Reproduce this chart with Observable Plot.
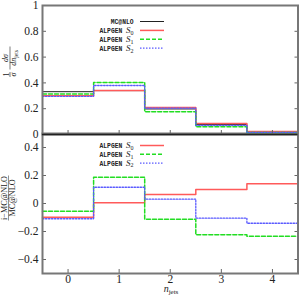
<!DOCTYPE html>
<html><head><meta charset="utf-8">
<script src="https://cdn.jsdelivr.net/npm/d3@7"></script>
<script src="https://cdn.jsdelivr.net/npm/@observablehq/plot@0.6"></script>
<style>
body{margin:0;background:#fff;}
#wrap{position:relative;width:299px;height:300px;overflow:hidden;background:#fff;}
#wrap svg{position:absolute;left:0;}
#wrap svg.pl text{font-family:'Liberation Serif','DejaVu Serif',serif;font-size:11.5px;fill:#222;}
</style></head>
<body><div id="wrap"></div>
<script>
// ---- data ----
const bins = [0, 1, 2, 3, 4];
const mcnlo = [0.332, 0.340, 0.198, 0.078, 0.020];
const alpS0 = [0.300, 0.342, 0.210, 0.086, 0.023];
const alpS1 = [0.314, 0.403, 0.176, 0.061, 0.015];
const alpS2 = [0.296, 0.380, 0.204, 0.070, 0.017];
const ratioS0 = [-0.098, 0.005, 0.064, 0.100, 0.141];
const ratioS1 = [-0.055, 0.188, -0.112, -0.224, -0.234];
const ratioS2 = [-0.109, 0.116, 0.031, -0.105, -0.141];
const xTicks = [0, 1, 2, 3, 4];
const yTicksTop = [0, 0.2, 0.4, 0.6, 0.8, 1];
const yTicksBot = [-0.4, -0.2, 0, 0.2, 0.4];
const topLegend = [["MC@NLO", null], ["ALPGEN ", "0"], ["ALPGEN ", "1"], ["ALPGEN ", "2"]];
const botLegend = [["ALPGEN ", "0"], ["ALPGEN ", "1"], ["ALPGEN ", "2"]];

const styles = {
  mc: {stroke: "#222", strokeWidth: 1},
  s0: {stroke: "#ff5a5a", strokeWidth: 1.5},
  s1: {stroke: "#22dd22", strokeWidth: 1.5, strokeDasharray: "4,2"},
  s2: {stroke: "#5a5aff", strokeWidth: 1.3, strokeDasharray: "1.5,1.5"}
};

function steps(vals) {
  const pts = bins.map((b, i) => ({x: b - 0.5, y: vals[i]}));
  pts.push({x: bins[bins.length - 1] + 0.5, y: vals[vals.length - 1]});
  return pts;
}
const serif = "'Liberation Serif', 'DejaVu Serif', serif";
const W = 299;

// ---- bottom panel ----
const botPlot = Plot.plot({
  className: "pl",
  width: W, height: 167,
  marginLeft: 42, marginRight: 1.5, marginTop: 0, marginBottom: 27,
  style: {background: "transparent", overflow: "visible"},
  x: {domain: [-0.5, 4.5]},
  y: {domain: [-0.5, 0.5]},
  marks: [
    Plot.line(steps(ratioS0), {x: "x", y: "y", curve: "step-after", ...styles.s0}),
    Plot.line(steps(ratioS1), {x: "x", y: "y", curve: "step-after", ...styles.s1}),
    Plot.line(steps(ratioS2), {x: "x", y: "y", curve: "step-after", ...styles.s2}),
    Plot.axisY({anchor: "left", ticks: yTicksBot, tickSize: -4, tickPadding: 8, label: null, stroke: "#666", tickFormat: d => d === 0 ? "0" : d3.format(".1f")(d)}),
    Plot.axisY({anchor: "right", ticks: yTicksBot, tickSize: -4, label: null, stroke: "#666", tickFormat: () => ""}),
    Plot.axisX({anchor: "bottom", ticks: xTicks, tickSize: -4, tickPadding: 5, label: null, stroke: "#666", tickFormat: d3.format("d")}),
    Plot.frame({stroke: "#777", strokeWidth: 2})
  ]
});
botPlot.style.top = "133px";
document.getElementById("wrap").appendChild(botPlot);

// ---- top panel ----
const topPlot = Plot.plot({
  className: "pl",
  width: W, height: 139,
  marginLeft: 42, marginRight: 1.5, marginTop: 5, marginBottom: 5,
  style: {background: "transparent", overflow: "visible"},
  x: {domain: [-0.5, 4.5]},
  y: {domain: [0, 1]},
  marks: [
    Plot.line(steps(mcnlo), {x: "x", y: "y", curve: "step-after", ...styles.mc}),
    Plot.line(steps(alpS0), {x: "x", y: "y", curve: "step-after", ...styles.s0}),
    Plot.line(steps(alpS1), {x: "x", y: "y", curve: "step-after", ...styles.s1}),
    Plot.line(steps(alpS2), {x: "x", y: "y", curve: "step-after", ...styles.s2}),
    Plot.axisY({anchor: "left", ticks: yTicksTop, tickSize: -4, tickPadding: 8, label: null, stroke: "#666", tickFormat: d => d === 0 || d === 1 ? String(d) : d3.format(".1f")(d)}),
    Plot.axisY({anchor: "right", ticks: yTicksTop, tickSize: -4, label: null, stroke: "#666", tickFormat: () => ""}),
    Plot.axisX({anchor: "bottom", ticks: xTicks, tickSize: -4, label: null, stroke: "#666", tickFormat: () => ""}),
    Plot.frame({stroke: "#777", strokeWidth: 2}),
    Plot.ruleY([0], {stroke: "#222", strokeWidth: 1.5})
  ]
});
topPlot.style.top = "0px";
document.getElementById("wrap").appendChild(topPlot);

// ---- text overlay: legends, axis titles ----
const ov = d3.select("#wrap").append("svg")
  .attr("width", W).attr("height", 300).style("top", "0px")
  .style("pointer-events", "none");

function legend(rows, y0, dy, keys) {
  rows.forEach((r, i) => {
    const y = y0 + i * dy;
    const t = ov.append("text").attr("x", 133.5).attr("y", y + 2.5)
      .attr("text-anchor", "end").attr("fill", "#222");
    t.append("tspan").attr("font-family", "'Liberation Mono', 'DejaVu Sans Mono', monospace")
      .attr("font-size", 6.3).attr("font-weight", "bold").text(r[0]);
    if (r[1] !== null) {
      t.append("tspan").attr("font-family", serif).attr("font-style", "italic").attr("font-size", 9).text("S");
      t.append("tspan").attr("font-family", serif).attr("font-size", 6).attr("dy", 1.8).text(r[1]);
    }
    const st = styles[keys[i]];
    ov.append("line").attr("x1", 140).attr("x2", 164).attr("y1", y).attr("y2", y)
      .attr("stroke", st.stroke).attr("stroke-width", st.strokeWidth)
      .attr("stroke-dasharray", st.strokeDasharray || null);
  });
}
legend(topLegend, 21.5, 8.9, ["mc", "s0", "s1", "s2"]);
legend(botLegend, 145.5, 8.8, ["s0", "s1", "s2"]);

// x-axis title n_jets
const xl = ov.append("text").attr("x", 171).attr("y", 292).attr("text-anchor", "middle")
  .attr("font-family", serif).attr("fill", "#222");
xl.append("tspan").attr("font-style", "italic").attr("font-size", 10).text("n");
xl.append("tspan").attr("font-size", 7).attr("dy", 1.5).text("jets");

// top y title: (1/σ)(dσ/dn_jets), rotated
const g1 = ov.append("g").attr("transform", "translate(10,62) rotate(-90)")
  .attr("font-family", serif).attr("fill", "#222");
g1.append("text").attr("x", -12.5).attr("y", -1.5).attr("text-anchor", "middle").attr("font-size", 8).text("1");
g1.append("line").attr("x1", -15).attr("x2", -10).attr("y1", 0).attr("y2", 0).attr("stroke", "#222").attr("stroke-width", 0.6);
g1.append("text").attr("x", -12.5).attr("y", 5.5).attr("text-anchor", "middle").attr("font-size", 8).attr("font-style", "italic").text("σ");
g1.append("text").attr("x", 4).attr("y", -1.8).attr("text-anchor", "middle").attr("font-size", 8).attr("font-style", "italic").text("dσ");
g1.append("line").attr("x1", -7.5).attr("x2", 15.5).attr("y1", 0).attr("y2", 0).attr("stroke", "#222").attr("stroke-width", 0.6);
const dn = g1.append("text").attr("x", 4).attr("y", 6.3).attr("text-anchor", "middle").attr("font-size", 8).attr("font-style", "italic");
dn.append("tspan").text("dn");
dn.append("tspan").attr("font-size", 5.5).attr("font-style", "normal").attr("dy", 1.5).text("jets");

// bottom y title: (i−MC@NLO)/MC@NLO, rotated
const g2 = ov.append("g").attr("transform", "translate(8.5,198) rotate(-90)")
  .attr("font-family", serif).attr("fill", "#222");
g2.append("text").attr("x", 0).attr("y", -1.8).attr("text-anchor", "middle").attr("font-size", 8.2).text("i−MC@NLO");
g2.append("line").attr("x1", -22.5).attr("x2", 22.5).attr("y1", 0).attr("y2", 0).attr("stroke", "#222").attr("stroke-width", 0.5);
g2.append("text").attr("x", 0).attr("y", 6.8).attr("text-anchor", "middle").attr("font-size", 8.2).text("MC@NLO");
</script></body></html>
